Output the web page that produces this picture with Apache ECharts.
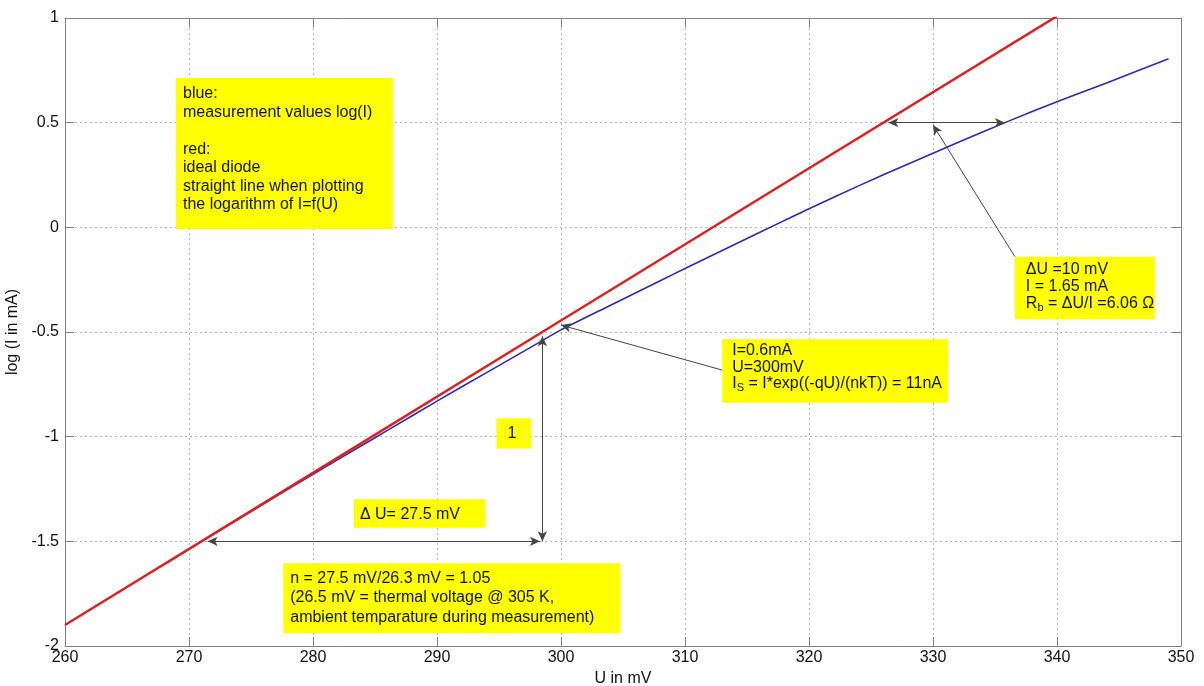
<!DOCTYPE html>
<html><head><meta charset="utf-8">
<script src="https://cdn.jsdelivr.net/npm/echarts@6/dist/echarts.min.js"></script>
<style>html,body{margin:0;padding:0;background:#fff}#c{width:1204px;height:686px}</style>
</head><body><div id="c"></div>
<script>
// ---- data ----
const xTicks = [260, 270, 280, 290, 300, 310, 320, 330, 340, 350];
const yTicks = [-2, -1.5, -1, -0.5, 0, 0.5, 1];

// red: ideal diode (straight line)
const redU   = [260, 280, 300, 320, 340];
const redLog = [-1.9, -1.173, -0.445, 0.282, 1.009];

// blue: measurement values log(I)
const blueU   = [268, 272, 276, 280, 284, 286, 290, 294, 298, 300, 304, 308, 310, 314, 318, 320, 324, 328, 332, 336, 340, 344, 349];
const blueLog = [-1.61, -1.465, -1.322, -1.18, -1.04, -0.97, -0.83, -0.694, -0.558, -0.49, -0.372, -0.255, -0.197, -0.082, 0.032, 0.089, 0.198, 0.303, 0.405, 0.505, 0.6, 0.69, 0.805];

// annotation arrows (data coordinates): [from, to, headAtStart, headAtEnd]
const arrows = [
  [[271.5, -1.5], [298.3, -1.5], true, true],
  [[298.5, -1.5], [298.5, -0.52], true, true],
  [[313.0, -0.682], [300.0, -0.467], false, true],
  [[326.4, 0.5], [335.8, 0.5], true, true],
  [[336.6, -0.14], [330.0, 0.489], false, true]
];

// annotation boxes: corners in data coordinates + text lines
const boxTexts = [
  ['blue:', 'measurement values log(I)', '', 'red:', 'ideal diode', 'straight line when plotting', 'the logarithm of I=f(U)'],
  ['ΔU =10 mV', 'I = 1.65 mA', '{n|R}{s|b}{n| = ΔU/I =6.06 Ω}'],
  ['I=0.6mA', 'U=300mV', '{n|I}{s|S}{n| = I*exp((-qU)/(nkT)) = 11nA}'],
  ['1'],
  ['Δ U= 27.5 mV'],
  ['n = 27.5 mV/26.3 mV = 1.05', '(26.5 mV = thermal voltage @ 305 K,', 'ambient temparature during measurement)']
];
const boxCorners = [
  [[268.95, 0.713], [286.45, -0.008]],
  [[336.6, -0.140], [347.9, -0.439]],
  [[313.0, -0.535], [331.2, -0.838]],
  [[294.8, -0.912], [297.6, -1.056]],
  [[283.3, -1.299], [293.9, -1.435]],
  [[277.6, -1.605], [304.8, -1.939]]
];
// text layout inside boxes (px): [padLeft, firstLineCenter, lineStep]
const boxLayout = [
  [7, 16, 18.5],
  [11, 13.3, 16.7],
  [10, 11.7, 16.2],
  [11, 15, 0],
  [6, 15, 0],
  [7, 15, 19.5]
];

const FONT = '"Liberation Sans", Arial, Helvetica, sans-serif';
const chart = echarts.init(document.getElementById('c'), null, {renderer: 'canvas'});

const gridLine = {show: true, lineStyle: {color: '#b4b4b4', width: 1, type: [2, 3]}};
const frame = {show: true, onZero: false, lineStyle: {color: '#808080', width: 1}};
const ticksIn = {show: true, inside: true, length: 9, lineStyle: {color: '#808080'}};

const option = {
  animation: false,
  backgroundColor: '#fff',
  grid: {left: 65, right: 23, top: 18, bottom: 40, containLabel: false, outerBoundsMode: 'none'},
  xAxis: [
    {type: 'value', min: xTicks[0], max: xTicks[xTicks.length - 1], interval: xTicks[1] - xTicks[0],
     position: 'bottom', name: 'U in mV', nameLocation: 'middle', nameGap: 15,
     nameTextStyle: {fontFamily: FONT, fontSize: 16, color: '#111'},
     axisLine: frame, axisTick: ticksIn, splitLine: gridLine,
     axisLabel: {fontFamily: FONT, fontSize: 16, color: '#111', margin: 4}},
    {type: 'value', min: xTicks[0], max: xTicks[xTicks.length - 1], interval: xTicks[1] - xTicks[0],
     position: 'top', axisLine: frame, axisTick: ticksIn, splitLine: {show: false}, axisLabel: {show: false}}
  ],
  yAxis: [
    {type: 'value', min: yTicks[0], max: yTicks[yTicks.length - 1], interval: yTicks[1] - yTicks[0],
     position: 'left', name: 'log (I in mA)', nameLocation: 'middle', nameGap: 40,
     nameTextStyle: {fontFamily: FONT, fontSize: 16, color: '#111'},
     axisLine: frame, axisTick: ticksIn, splitLine: gridLine,
     axisLabel: {fontFamily: FONT, fontSize: 16, color: '#111', margin: 6}},
    {type: 'value', min: yTicks[0], max: yTicks[yTicks.length - 1], interval: yTicks[1] - yTicks[0],
     position: 'right', axisLine: frame, axisTick: ticksIn, splitLine: {show: false}, axisLabel: {show: false}}
  ],
  series: [
    {type: 'line', name: 'measurement', data: blueU.map((u, i) => [u, blueLog[i]]),
     smooth: 0.25, showSymbol: false, lineStyle: {color: '#2b2bb5', width: 1.6}, z: 3, silent: true},
    {type: 'line', name: 'ideal', data: redU.map((u, i) => [u, redLog[i]]),
     showSymbol: false, lineStyle: {color: '#e01e1e', width: 2.4}, z: 4, silent: true},
    {type: 'line', name: 'arrows', data: [], silent: true, z: 5,
     markLine: {
       silent: true, animation: false,
       label: {show: false}, emphasis: {disabled: true},
       symbolSize: [7, 10],
       lineStyle: {color: '#444', width: 1, type: 'solid'},
       data: arrows.map(a => [
         {coord: a[0], symbol: a[2] ? 'arrow' : 'none'},
         {coord: a[1], symbol: a[3] ? 'arrow' : 'none'}
       ])
     }}
  ]
};
chart.setOption(option);

// build annotation boxes from data coordinates
const elements = [];
boxTexts.forEach((lines, bi) => {
  const p1 = chart.convertToPixel({xAxisIndex: 0, yAxisIndex: 0}, boxCorners[bi][0]);
  const p2 = chart.convertToPixel({xAxisIndex: 0, yAxisIndex: 0}, boxCorners[bi][1]);
  const x = Math.min(p1[0], p2[0]), y = Math.min(p1[1], p2[1]);
  const w = Math.abs(p2[0] - p1[0]), h = Math.abs(p2[1] - p1[1]);
  elements.push({type: 'rect', shape: {x: x, y: y, width: w, height: h}, style: {fill: '#ffff00'}, z: 10, silent: true});
  const L = boxLayout[bi];
  lines.forEach((t, li) => {
    if (!t) return;
    const rich = t.indexOf('{') >= 0;
    elements.push({
      type: 'text', x: x + L[0], y: y + L[1] + li * L[2], z: 11, silent: true,
      style: {
        text: t, fill: '#111', font: '16px ' + FONT, align: 'left', verticalAlign: 'middle',
        rich: rich ? {
          n: {fontSize: 16, fontFamily: FONT, color: '#111'},
          s: {fontSize: 11, fontFamily: FONT, color: '#111', padding: [9, 0, 0, 0]}
        } : undefined
      }
    });
  });
});
chart.setOption({graphic: {elements: elements}});
</script>
</body></html>
